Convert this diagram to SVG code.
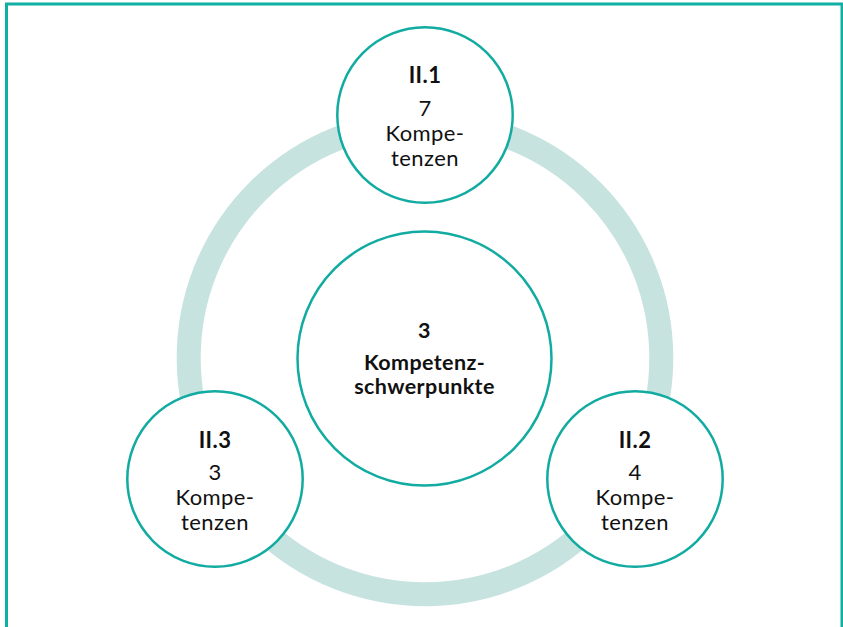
<svg xmlns="http://www.w3.org/2000/svg" width="843" height="627" viewBox="0 0 843 627">
  <style>
    .frame { fill: none; stroke: #0fafa4; stroke-width: 3; }
    .ring { fill: none; stroke: #c6e3e0; stroke-width: 24; }
    .node { fill: #ffffff; stroke: #12aba1; stroke-width: 2.5; }
    text { font-family: Lato, "Open Sans", "Liberation Sans", sans-serif; fill: #111111; text-anchor: middle; }
    .t { font-size: 22px; letter-spacing: 0.4px; }
    .b { font-weight: bold; }
    .c { font-size: 21.5px; font-weight: bold; letter-spacing: 0.4px; }
  </style>

  <!-- outer frame, open at the bottom edge -->
  <rect class="frame" x="6.5" y="4" width="835.5" height="640"/>

  <!-- connectors: the cycle joining the three areas -->
  <g id="connectors">
    <circle class="ring" cx="425" cy="358" r="236.3"/>
  </g>

  <!-- centre node -->
  <g id="center">
    <circle class="node" cx="424.5" cy="358.5" r="127"/>
    <text class="c" x="424.5" y="337.5">3</text>
    <text class="c" x="424.5" y="370">Kompetenz-</text>
    <text class="c" x="424.5" y="394">schwerpunkte</text>
  </g>

  <!-- II.1 -->
  <g id="node-II1">
    <circle class="node" cx="425" cy="115" r="87.7"/>
    <text class="t b" x="425" y="83">II.1</text>
    <text class="t" x="425" y="116">7</text>
    <text class="t" x="425" y="140.5">Kompe-</text>
    <text class="t" x="425" y="166">tenzen</text>
  </g>

  <!-- II.2 -->
  <g id="node-II2">
    <circle class="node" cx="635" cy="479" r="87.7"/>
    <text class="t b" x="635" y="447.5">II.2</text>
    <text class="t" x="635" y="480">4</text>
    <text class="t" x="635" y="504.5">Kompe-</text>
    <text class="t" x="635" y="530">tenzen</text>
  </g>

  <!-- II.3 -->
  <g id="node-II3">
    <circle class="node" cx="215" cy="479" r="87.7"/>
    <text class="t b" x="215" y="447.5">II.3</text>
    <text class="t" x="215" y="480">3</text>
    <text class="t" x="215" y="504.5">Kompe-</text>
    <text class="t" x="215" y="530">tenzen</text>
  </g>
</svg>
